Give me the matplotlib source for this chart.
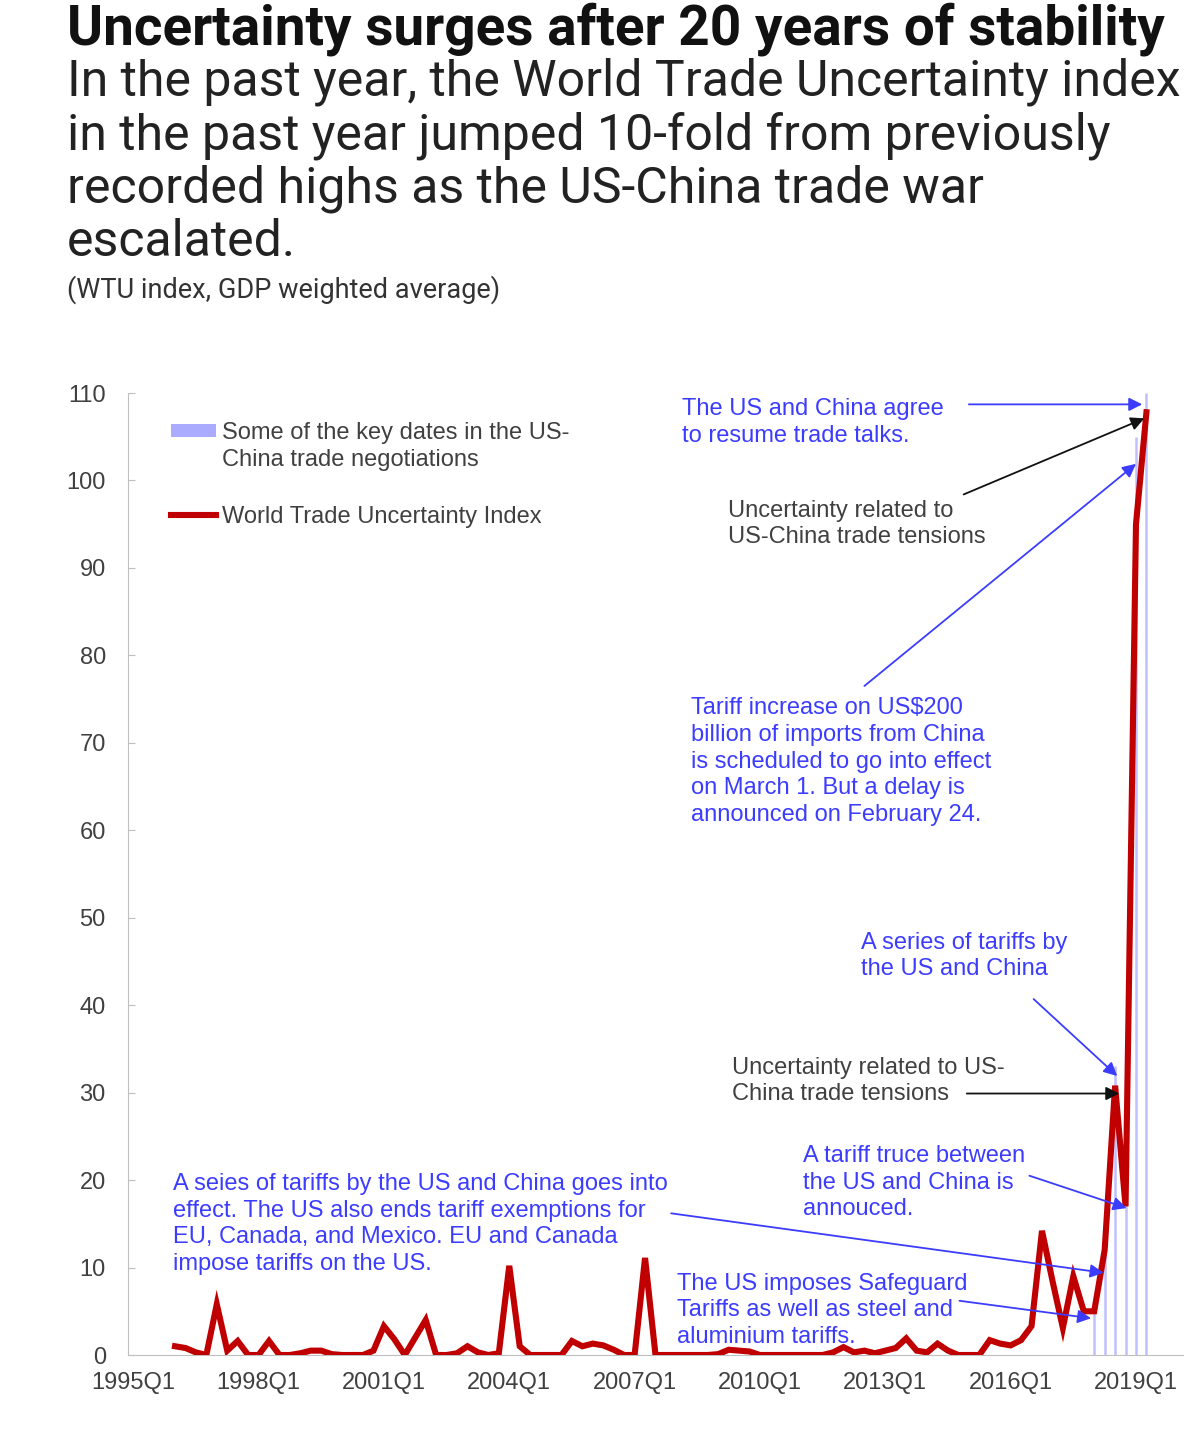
import numpy as np
import matplotlib
matplotlib.use("Agg")
import matplotlib.pyplot as plt
from matplotlib.lines import Line2D
from matplotlib.patches import Patch

# quarterly index, 1995Q1 .. 2019Q2 (first four quarters have no value)
years = list(range(1995, 2020))
quarters = [f"{y}Q{q}" for y in years for q in range(1, 5)][:98]

wtu = [np.nan, np.nan, np.nan, np.nan,
       1.0, 0.8, 0.3, 0.0, 5.8, 0.5, 1.6, 0.0,
       0.0, 1.6, 0.0, 0.0, 0.2, 0.5, 0.5, 0.1,
       0.0, 0.0, 0.0, 0.5, 3.3, 1.8, 0.0, 2.0,
       4.0, 0.0, 0.0, 0.2, 1.0, 0.3, 0.0, 0.2,
       10.2, 1.0, 0.0, 0.0, 0.0, 0.0, 1.6, 1.0,
       1.3, 1.1, 0.6, 0.0, 0.0, 11.1, 0.0, 0.0,
       0.0, 0.0, 0.0, 0.0, 0.1, 0.6, 0.5, 0.4,
       0.0, 0.0, 0.0, 0.0, 0.0, 0.0, 0.0, 0.3,
       0.9, 0.3, 0.5, 0.2, 0.5, 0.8, 1.9, 0.5,
       0.3, 1.3, 0.5, 0.0, 0.0, 0.0, 1.7, 1.3,
       1.1, 1.7, 3.3, 14.2, 8.5, 3.1, 9.0, 5.0,
       5.0, 12.0, 30.8, 17.0, 95.0, 107.8]

# key dates in the US-China negotiations (bar heights)
key_dates = ["2018Q1", "2018Q2", "2018Q3", "2018Q4", "2019Q1", "2019Q2"]
key_heights = [5, 12, 33, 17.5, 105, 110]

tick_labels = ["1995Q1", "1998Q1", "2001Q1", "2004Q1", "2007Q1",
               "2010Q1", "2013Q1", "2016Q1", "2019Q1"]

# annotations: text, text anchor (x idx, y), arrow start, arrow tip, colour
BLUE = "#3c3cff"
GREY = "#404040"
notes = [
    ("The US and China agree\nto resume trade talks.", (52.5, 109.4), (80.0, 108.7), (96.6, 108.7), BLUE),
    ("Uncertainty related to\nUS-China trade tensions", (56.9, 97.8), (79.5, 98.4), (96.8, 107.1), GREY),
    ("Tariff increase on US$200\nbillion of imports from China\nis scheduled to go into effect\n"
     "on March 1. But a delay is\nannounced on February 24.", (53.4, 75.2), (70.0, 76.5), (96.0, 101.9), BLUE),
    ("A series of tariffs by\nthe US and China", (69.7, 48.4), (86.2, 40.7), (94.2, 31.9), BLUE),
    ("Uncertainty related to US-\nChina trade tensions", (57.3, 34.1), (79.8, 29.9), (94.4, 29.9), GREY),
    ("A tariff truce between\nthe US and China is\nannouced.", (64.1, 24.0), (85.8, 20.5), (95.1, 16.8), BLUE),
    ("A seies of tariffs by the US and China goes into\neffect. The US also ends tariff exemptions for\n"
     "EU, Canada, and Mexico. EU and Canada\nimpose tariffs on the US.", (3.8, 20.8), (51.5, 16.2), (92.9, 9.4), BLUE),
    ("The US imposes Safeguard\nTariffs as well as steel and\naluminium tariffs.", (52.1, 9.4), (79.1, 6.2), (91.7, 4.2), BLUE),
]

fig = plt.figure(figsize=(12.02, 14.5), dpi=100)

fig.text(67 / 1202, 1 - 2 / 1450, "Uncertainty surges after 20 years of stability",
         family="Roboto", weight="bold", fontsize=39.5, color="#111111", va="top")
fig.text(67 / 1202, 1 - 58 / 1450,
         "In the past year, the World Trade Uncertainty index\n"
         "in the past year jumped 10-fold from previously\n"
         "recorded highs as the US-China trade war\nescalated.",
         family="Roboto", fontsize=36, color="#222222", va="top", linespacing=1.125)
fig.text(67 / 1202, 1 - 290 / 1450, "(WTU index, GDP weighted average)",
         family="Roboto", fontsize=19.5, color="#333333", va="center")

ax = fig.add_axes([128 / 1202, 1 - 1355 / 1450, 1055 / 1202, 962 / 1450])

x = np.arange(len(quarters))
kx = [quarters.index(k) for k in key_dates]
ax.vlines(kx, 0, key_heights, color="#c0c0ff", lw=1.8, zorder=1)
ax.plot(x, wtu, color="#c00000", lw=4.4, solid_joinstyle="miter", zorder=3)

ax.set_xlim(-0.5, 100.5)
ax.set_ylim(0, 110)
ax.set_yticks(range(0, 111, 10))
ax.set_xticks([quarters.index(t) for t in tick_labels])
ax.set_xticklabels(tick_labels)
for s in ["top", "right"]:
    ax.spines[s].set_visible(False)
for s in ["left", "bottom"]:
    ax.spines[s].set_color("#bfbfbf")
ax.tick_params(axis="y", direction="in", length=5, color="#bfbfbf", pad=16,
               labelsize=17, labelcolor=GREY)
ax.tick_params(axis="x", length=0, pad=12, labelsize=17, labelcolor=GREY)
for lab in ax.get_xticklabels() + ax.get_yticklabels():
    lab.set_family("Liberation Sans")

for txt, pos, start, tip, col in notes:
    ax.text(pos[0], pos[1], txt, color=col, family="Liberation Sans", fontsize=17,
            ha="left", va="top", linespacing=1.27, zorder=4)
    ax.annotate("", xy=tip, xytext=start,
                arrowprops=dict(arrowstyle="-|>", color=col if col == BLUE else "#111111",
                                lw=1.3, mutation_scale=20, shrinkA=0, shrinkB=0),
                zorder=4)

handles = [Patch(facecolor="#aaaaff", edgecolor="none"),
           Line2D([], [], color="#c00000", lw=4.4)]
leg = ax.legend(handles, ["Some of the key dates in the US-", "World Trade Uncertainty Index"],
                loc="upper left", bbox_to_anchor=(43 / 1055, 0.970), frameon=False,
                borderpad=0, borderaxespad=0,
                handlelength=1.9, handleheight=0.45, handletextpad=0.25, labelspacing=2.62,
                prop={"family": "Liberation Sans", "size": 17})
for t in leg.get_texts():
    t.set_color(GREY)

# second line of the first legend label, placed under the first
fig.canvas.draw()
bb = leg.get_texts()[0].get_window_extent().transformed(ax.transAxes.inverted())
ax.text(bb.x0, bb.y0 - 27 / 962, "China trade negotiations", transform=ax.transAxes,
        family="Liberation Sans", fontsize=17, color=GREY, ha="left", va="bottom")

fig.savefig("out.png", dpi=100)
